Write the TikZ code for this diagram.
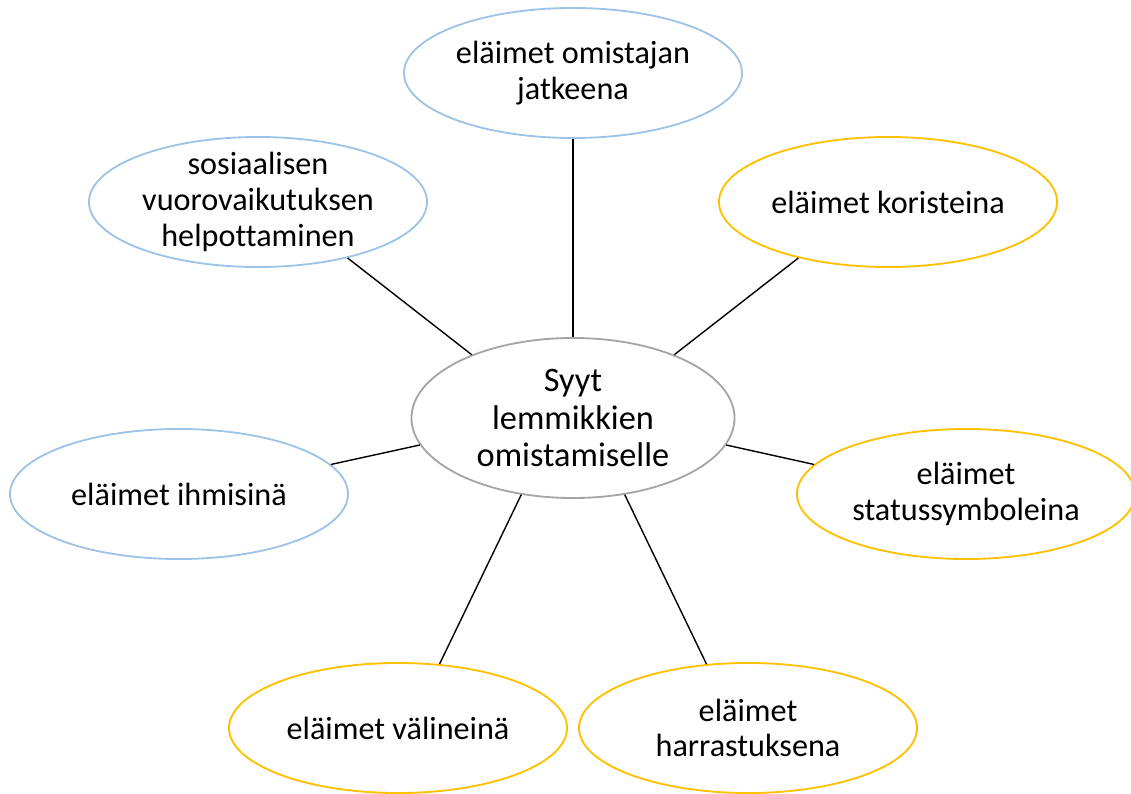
\documentclass[tikz,border=0pt]{standalone}
\usepackage{fontspec}
\setmainfont[Ligatures=NoCommon]{Carlito}
\usepackage{tikz}
\usetikzlibrary{shapes.geometric}
\definecolor{SoftBlue}{HTML}{9DC3E6}
\definecolor{Gold}{HTML}{FFC000}
\definecolor{MidGray}{HTML}{A5A5A5}

\begin{document}
\begin{tikzpicture}[
  x=0.025cm, y=-0.025cm,
  bubble/.style={ellipse, draw=#1, line width=1.3pt, minimum width=8.45cm, minimum height=3.25cm},
  caption/.style={align=center, inner sep=0pt, font=\fontsize{22.9}{25.5}\selectfont},
  link/.style={draw=black, line width=1pt}
]
\useasboundingbox (0,0) rectangle (1131,794);

\node[bubble=MidGray, minimum width=8.075cm, minimum height=4cm] (core) at (573,418) {};
\node[caption, font=\fontsize{24.4}{27}\selectfont] (core-t) at (core) {Syyt\\lemmikkien\\omistamiselle};

\node[bubble=SoftBlue] (jatke) at (573,73) {};
\node[caption] (jatke-t) at (jatke) {eläimet omistajan\\jatkeena};

\node[bubble=SoftBlue] (sosiaal) at (258,202) {};
\node[caption] (sosiaal-t) at (sosiaal) {sosiaalisen\\vuorovaikutuksen\\helpottaminen};

\node[bubble=Gold] (koriste) at (888,202) {};
\node[caption] (koriste-t) at (koriste) {eläimet koristeina};

\node[bubble=SoftBlue] (ihmis) at (179,494) {};
\node[caption] (ihmis-t) at (ihmis) {eläimet ihmisinä};

\node[bubble=Gold] (status) at (966,494) {};
\node[caption] (status-t) at (status) {eläimet\\statussymboleina};

\node[bubble=Gold] (valine) at (398,728) {};
\node[caption] (valine-t) at (valine) {eläimet välineinä};

\node[bubble=Gold] (harrast) at (748,728) {};
\node[caption] (harrast-t) at (harrast) {eläimet\\harrastuksena};

\draw[link] (core.90) -- (jatke.270);
\draw[link] (core.148) -- (sosiaal.328);
\draw[link] (core.32) -- (koriste.212);
\draw[link] (core.190) -- (ihmis.11);
\draw[link] (core.350) -- (status.169);
\draw[link] (core.236) -- (valine.57);
\draw[link] (core.304) -- (harrast.123);
\end{tikzpicture}
\end{document}
